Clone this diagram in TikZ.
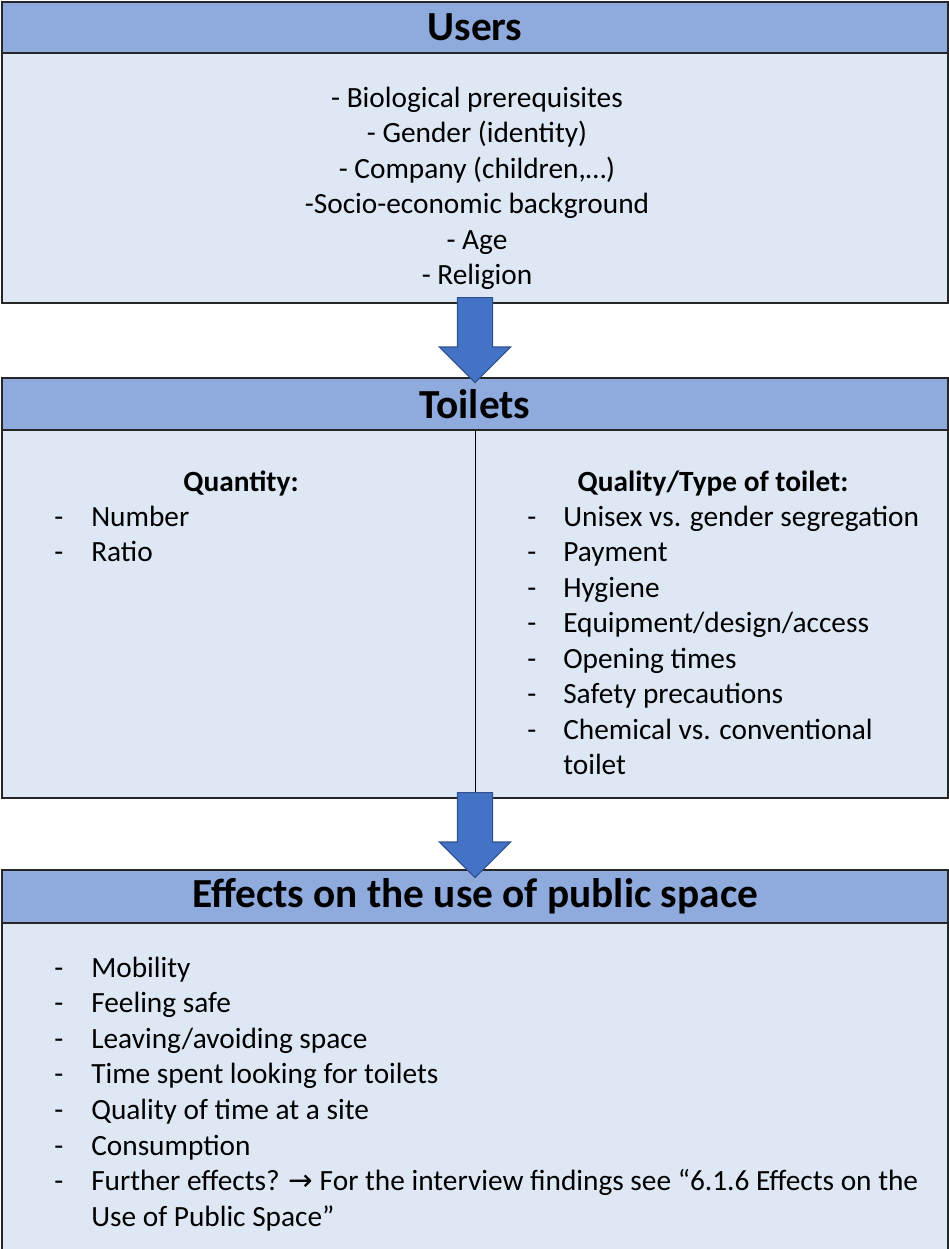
\documentclass[tikz,border=0pt]{standalone}
\usepackage{fontspec}
\setmainfont{Carlito}
\newfontfamily\symfont{DejaVu Sans}
\usetikzlibrary{positioning,shapes.arrows}

\definecolor{headblue}{HTML}{8FAADC}
\definecolor{bodyblue}{HTML}{DEE8F5}
\definecolor{arrowblue}{HTML}{4472C4}
\definecolor{arrowedge}{HTML}{2F528F}

\tikzset{
  boxhead/.style={draw=black!85, fill=headblue, line width=1.2pt, minimum width=709.5pt,
    minimum height=39pt, inner sep=0pt, outer sep=0pt, font=\fontsize{31}{36}\selectfont\bfseries},
  boxbody/.style={draw=black!85, fill=bodyblue, line width=1.2pt, minimum width=709.5pt,
    inner sep=0pt, outer sep=0pt},
  downarrow/.style={single arrow, draw=arrowedge, fill=arrowblue, line width=0.8pt,
    minimum height=63.75pt, minimum width=52.5pt, single arrow head extend=13.5pt,
    shape border rotate=270, inner sep=12.75pt},
  entry/.style={font=\fontsize{22}{26.6}\selectfont, inner sep=0pt, anchor=base west},
}

\begin{document}
\begin{tikzpicture}[x=0.75pt,y=-0.75pt]
  \useasboundingbox (0,0) rectangle (949,1249);

  % the three boxes
  \node[boxhead, minimum height=38.25pt] (usershead) at (475,27.5) {Users};
  \node[boxbody, minimum height=187.5pt, below=0pt of usershead] (usersbody) {};
  \node[boxhead, below=56.25pt of usersbody] (toiletshead) {Toilets};
  \node[boxbody, minimum height=276pt, below=0pt of toiletshead] (toiletsbody) {};
  \draw[line width=0.6pt] (toiletsbody.north) -- (toiletsbody.south);
  \node[boxhead, minimum height=39.75pt, below=54pt of toiletsbody] (effectshead) {Effects on the use of public space};
  \node[boxbody, minimum height=255pt, below=0pt of effectshead] (effectsbody) {};

  % block arrows
  \node[downarrow, anchor=tail] (arrow1) at ([yshift=4.5pt]usersbody.south) {};
  \node[downarrow, anchor=tail] (arrow2) at ([yshift=4.5pt]toiletsbody.south) {};

  % users
  \foreach \t [count=\i] in {- Biological prerequisites, - Gender (identity),
      {- Company (children,…)}, -Socio-economic background, - Age, - Religion}
    \node[entry, anchor=base] (user\i) at (477,71.5+35.5*\i) {\t};

  % toilets, left column
  \node[entry, anchor=base, font=\fontsize{22}{26.6}\selectfont\bfseries] (quantity) at (241,491) {Quantity:};
  \foreach \t [count=\i] in {Number, Ratio} {
    \node[entry] (qndash\i) at (54,490.5+35.5*\i) {-};
    \node[entry] (qnitem\i) at (91,490.5+35.5*\i) {\t};
  }

  % toilets, right column
  \node[entry, anchor=base, font=\fontsize{22}{26.6}\selectfont\bfseries] (quality) at (713,491) {Quality/Type of toilet:};
  \foreach \t [count=\i] in {Unisex vs. gender segregation, Payment, Hygiene,
      Equipment/design/access, Opening times, Safety precautions, Chemical vs. conventional} {
    \node[entry] (qldash\i) at (527,490.5+35.5*\i) {-};
    \node[entry] (qlitem\i) at (563,490.5+35.5*\i) {\t};
  }
  \node[entry] (qlitem8) at (563,774.5) {toilet};

  % effects
  \foreach \t [count=\i] in {Mobility, Feeling safe, Leaving/avoiding space,
      Time spent looking for toilets, Quality of time at a site, Consumption,
      {Further effects? {\symfont\fontsize{22}{26.6}\selectfont →} For the interview findings see “6.1.6 Effects on the}} {
    \node[entry] (efdash\i) at (54,941.4+35.6*\i) {-};
    \node[entry] (efitem\i) at (91,941.4+35.6*\i) {\t};
  }
  \node[entry] (efitem8) at (91,1226.2) {Use of Public Space”};
\end{tikzpicture}
\end{document}
